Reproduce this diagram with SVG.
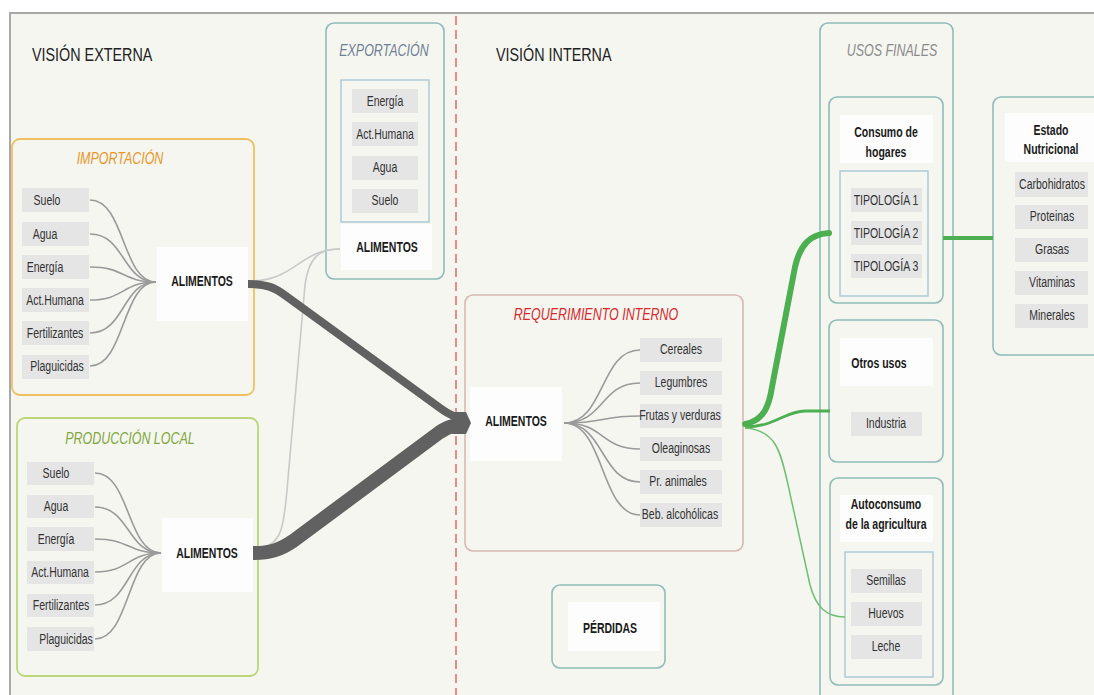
<svg xmlns="http://www.w3.org/2000/svg" width="1094" height="695" viewBox="0 0 1094 695">
<defs>
<style>
text{font-family:"Liberation Sans",Arial,sans-serif;fill:#333;text-anchor:middle}
.item{fill:#e5e5e5}
.white{fill:#fdfdfd}
.lbl{font-size:14px}
.bold{font-size:14px;font-weight:bold;fill:#1a1a1a}
.head{font-size:19px;text-anchor:start;fill:#222}
.ttl{font-size:16.5px;font-style:italic}
.teal{fill:none;stroke:#8fbcb8;stroke-width:1.6}
.inner{fill:none;stroke:#a9c8d6;stroke-width:1.4}
.fan{fill:none;stroke:#9a9a9a;stroke-width:1.6}
</style>
</defs>
<rect x="0" y="0" width="1094" height="695" fill="#ffffff"/>
<rect x="10" y="13" width="1090" height="690" fill="#f6f6f1"/>
<path d="M10,695 L10,13 L1094,13" fill="none" stroke="#a8a8a8" stroke-width="2"/>
<line x1="456" y1="16" x2="456" y2="695" stroke="#ee8a88" stroke-width="2" stroke-dasharray="9,5"/>
<text class="head" transform="translate(32,61) scale(.755 1)">VISIÓN EXTERNA</text>
<text class="head" transform="translate(496,61) scale(.755 1)">VISIÓN INTERNA</text>

<g id="importacion">
<rect x="12" y="139" width="242" height="256" rx="8" fill="none" stroke="#f0c060" stroke-width="1.8"/>
<text class="ttl" transform="translate(120,164) scale(.755 1)" style="fill:#e8962a">IMPORTACIÓN</text>
<rect class="item" x="22" y="188" width="67" height="24"/><text class="lbl" transform="translate(47,205) scale(.75 1)">Suelo</text>
<rect class="item" x="22" y="222" width="67" height="24"/><text class="lbl" transform="translate(45,239) scale(.75 1)">Agua</text>
<rect class="item" x="22" y="255" width="67" height="24"/><text class="lbl" transform="translate(45,272) scale(.75 1)">Energía</text>
<rect class="item" x="22" y="288" width="67" height="24"/><text class="lbl" transform="translate(55,305) scale(.75 1)">Act.Humana</text>
<rect class="item" x="22" y="321" width="67" height="24"/><text class="lbl" transform="translate(55,338) scale(.75 1)">Fertilizantes</text>
<rect class="item" x="22" y="355" width="67" height="24"/><text class="lbl" transform="translate(57,371) scale(.75 1)">Plaguicidas</text>
<rect class="white" x="157" y="247" width="91" height="74"/><text class="bold" transform="translate(202,286) scale(.75 1)">ALIMENTOS</text>
</g>

<g id="produccion">
<rect x="17" y="418" width="241" height="258" rx="8" fill="none" stroke="#b9d77a" stroke-width="1.8"/>
<text class="ttl" transform="translate(130,444) scale(.755 1)" style="fill:#7fa83e">PRODUCCIÓN LOCAL</text>
<rect class="item" x="27" y="462" width="67" height="23"/><text class="lbl" transform="translate(56,478) scale(.75 1)">Suelo</text>
<rect class="item" x="27" y="495" width="67" height="23"/><text class="lbl" transform="translate(56,511) scale(.75 1)">Agua</text>
<rect class="item" x="27" y="527" width="67" height="24"/><text class="lbl" transform="translate(56,544) scale(.75 1)">Energía</text>
<rect class="item" x="27" y="561" width="67" height="23"/><text class="lbl" transform="translate(60,577) scale(.75 1)">Act.Humana</text>
<rect class="item" x="27" y="594" width="67" height="23"/><text class="lbl" transform="translate(61,610) scale(.75 1)">Fertilizantes</text>
<rect class="item" x="27" y="627" width="67" height="24"/><text class="lbl" transform="translate(66,644) scale(.75 1)">Plaguicidas</text>
<rect class="white" x="162" y="518" width="91" height="74"/><text class="bold" transform="translate(207,558) scale(.75 1)">ALIMENTOS</text>
</g>

<g id="exportacion">
<rect class="teal" x="326" y="23" width="118" height="256" rx="8"/>
<text class="ttl" transform="translate(384,56) scale(.755 1)" style="fill:#6f8196">EXPORTACIÓN</text>
<rect class="inner" x="341" y="80" width="88" height="142"/>
<rect class="item" x="352" y="89" width="66" height="24"/><text class="lbl" transform="translate(385,106) scale(.75 1)">Energía</text>
<rect class="item" x="352" y="122" width="66" height="24"/><text class="lbl" transform="translate(385,139) scale(.75 1)">Act.Humana</text>
<rect class="item" x="352" y="156" width="66" height="24"/><text class="lbl" transform="translate(385,172) scale(.75 1)">Agua</text>
<rect class="item" x="352" y="189" width="66" height="24"/><text class="lbl" transform="translate(385,205) scale(.75 1)">Suelo</text>
<rect class="white" x="341" y="224" width="91" height="46"/><text class="bold" transform="translate(387,252) scale(.75 1)">ALIMENTOS</text>
</g>

<g id="requerimiento">
<rect x="465" y="295" width="278" height="256" rx="8" fill="none" stroke="#d8b8b4" stroke-width="1.6"/>
<text class="ttl" transform="translate(596,320) scale(.755 1)" style="fill:#d8292b">REQUERIMIENTO INTERNO</text>
<rect class="white" x="470" y="387" width="92" height="74"/><text class="bold" transform="translate(516,426) scale(.75 1)">ALIMENTOS</text>
<rect class="item" x="640" y="338" width="82" height="24"/><text class="lbl" transform="translate(681,354) scale(.75 1)">Cereales</text>
<rect class="item" x="640" y="371" width="82" height="24"/><text class="lbl" transform="translate(681,387) scale(.75 1)">Legumbres</text>
<rect class="item" x="640" y="404" width="82" height="24"/><text class="lbl" transform="translate(680,420) scale(.75 1)">Frutas y verduras</text>
<rect class="item" x="640" y="437" width="82" height="24"/><text class="lbl" transform="translate(681,453) scale(.75 1)">Oleaginosas</text>
<rect class="item" x="640" y="470" width="82" height="24"/><text class="lbl" transform="translate(678,486) scale(.75 1)">Pr. animales</text>
<rect class="item" x="640" y="503" width="82" height="24"/><text class="lbl" transform="translate(680,519) scale(.75 1)">Beb. alcohólicas</text>
</g>

<g id="perdidas">
<rect class="teal" x="552" y="585" width="113" height="83" rx="8"/>
<rect class="white" x="568" y="602" width="92" height="49"/><text class="bold" transform="translate(610,633) scale(.75 1)">PÉRDIDAS</text>
</g>

<g id="usos-finales">
<rect class="teal" x="820" y="23" width="133" height="690" rx="8"/>
<text class="ttl" transform="translate(892,56) scale(.755 1)" style="fill:#8a8a8a">USOS FINALES</text>
</g>

<g id="consumo-hogares">
<rect class="teal" x="829" y="97" width="114" height="206" rx="8"/>
<rect class="white" x="840" y="115" width="93" height="48"/>
<text class="bold" transform="translate(886,137) scale(.75 1)">Consumo de</text><text class="bold" transform="translate(886,157) scale(.75 1)">hogares</text>
<rect class="inner" x="840" y="171" width="88" height="125"/>
<rect class="item" x="851" y="188" width="71" height="24"/><text class="lbl" transform="translate(886,205) scale(.75 1)">TIPOLOGÍA 1</text>
<rect class="item" x="851" y="221" width="71" height="24"/><text class="lbl" transform="translate(886,238) scale(.75 1)">TIPOLOGÍA 2</text>
<rect class="item" x="851" y="254" width="71" height="24"/><text class="lbl" transform="translate(886,271) scale(.75 1)">TIPOLOGÍA 3</text>
</g>

<g id="otros-usos">
<rect class="teal" x="829" y="320" width="114" height="142" rx="8"/>
<rect class="white" x="840" y="338" width="93" height="48"/>
<text class="bold" transform="translate(879,368) scale(.75 1)">Otros usos</text>
<rect class="item" x="851" y="412" width="71" height="24"/><text class="lbl" transform="translate(886,428) scale(.75 1)">Industria</text>
</g>

<g id="autoconsumo">
<rect class="teal" x="830" y="478" width="113" height="207" rx="8"/>
<rect class="white" x="840" y="495" width="93" height="47"/>
<text class="bold" transform="translate(886,509) scale(.75 1)">Autoconsumo</text><text class="bold" transform="translate(886,529) scale(.75 1)">de la agricultura</text>
<rect class="inner" x="845" y="552" width="88" height="125"/>
<rect class="item" x="851" y="569" width="71" height="24"/><text class="lbl" transform="translate(886,585) scale(.75 1)">Semillas</text>
<rect class="item" x="851" y="602" width="71" height="24"/><text class="lbl" transform="translate(886,618) scale(.75 1)">Huevos</text>
<rect class="item" x="851" y="635" width="71" height="24"/><text class="lbl" transform="translate(886,651) scale(.75 1)">Leche</text>
</g>

<g id="estado-nutricional">
<rect class="teal" x="993" y="97" width="120" height="258" rx="8"/>
<rect class="white" x="1005" y="113" width="89" height="49"/>
<text class="bold" transform="translate(1051,135) scale(.75 1)">Estado</text><text class="bold" transform="translate(1051,154) scale(.75 1)">Nutricional</text>
<rect class="item" x="1015" y="172" width="73" height="25"/><text class="lbl" transform="translate(1052,189) scale(.75 1)">Carbohidratos</text>
<rect class="item" x="1015" y="205" width="73" height="24"/><text class="lbl" transform="translate(1052,221) scale(.75 1)">Proteinas</text>
<rect class="item" x="1015" y="238" width="73" height="24"/><text class="lbl" transform="translate(1052,254) scale(.75 1)">Grasas</text>
<rect class="item" x="1015" y="271" width="73" height="24"/><text class="lbl" transform="translate(1052,287) scale(.75 1)">Vitaminas</text>
<rect class="item" x="1015" y="304" width="73" height="24"/><text class="lbl" transform="translate(1052,320) scale(.75 1)">Minerales</text>
</g>

<g id="connectors">
<path class="fan" d="M90,200 C125,200 122,282 156,282"/>
<path class="fan" d="M90,234 C125,234 122,282 156,282"/>
<path class="fan" d="M90,267 C125,267 122,282 156,282"/>
<path class="fan" d="M90,300 C125,300 122,282 156,282"/>
<path class="fan" d="M90,333 C125,333 122,282 156,282"/>
<path class="fan" d="M90,366 C125,366 122,282 156,282"/>
<path class="fan" d="M95,473 C130,473 127,553 161,553"/>
<path class="fan" d="M95,507 C130,507 127,553 161,553"/>
<path class="fan" d="M95,539 C130,539 127,553 161,553"/>
<path class="fan" d="M95,572 C130,572 127,553 161,553"/>
<path class="fan" d="M95,605 C130,605 127,553 161,553"/>
<path class="fan" d="M95,639 C130,639 127,553 161,553"/>
<path class="fan" d="M564,423 C605,423 600,350 640,350"/>
<path class="fan" d="M564,423 C605,423 600,383 640,383"/>
<path class="fan" d="M564,423 C605,423 600,416 640,416"/>
<path class="fan" d="M564,423 C605,423 600,449 640,449"/>
<path class="fan" d="M564,423 C605,423 600,482 640,482"/>
<path class="fan" d="M564,423 C605,423 600,515 640,515"/>
<path d="M250,281 C295,281 300,249 340,249" fill="none" stroke="#c9c9c9" stroke-width="1.6"/>
<path d="M256,548 C282,548 284,525 287,490 L305,285 C309,256 320,249 340,249" fill="none" stroke="#c9c9c9" stroke-width="1.6"/>
<path d="M248,284 C266,284 274,287 286,296 L440,408 C451,416 457,418 466,418" fill="none" stroke="#616161" stroke-width="8"/>
<path d="M253,553 C270,553 280,550 293,541 L440,432 C451,425 457,425 466,425" fill="none" stroke="#616161" stroke-width="14"/>
<path d="M452,412 L466,412 L471,423 L466,434 L452,434 Z" fill="#616161"/>
<path d="M745,424 C763,421 769,407 772,387 L795,267 C800,245 810,234 829,233" fill="none" stroke="#4caf50" stroke-width="6" stroke-linecap="round"/>
<path d="M745,427 C775,427 785,411 805,411 L830,411" fill="none" stroke="#4caf50" stroke-width="2.8"/>
<path d="M745,428 C775,430 780,450 787,480 L810,585 C816,607 826,617 845,617" fill="none" stroke="#6cc070" stroke-width="1.5"/>
<path d="M943,238 L993,238" fill="none" stroke="#4caf50" stroke-width="4"/>
</g>
</svg>
